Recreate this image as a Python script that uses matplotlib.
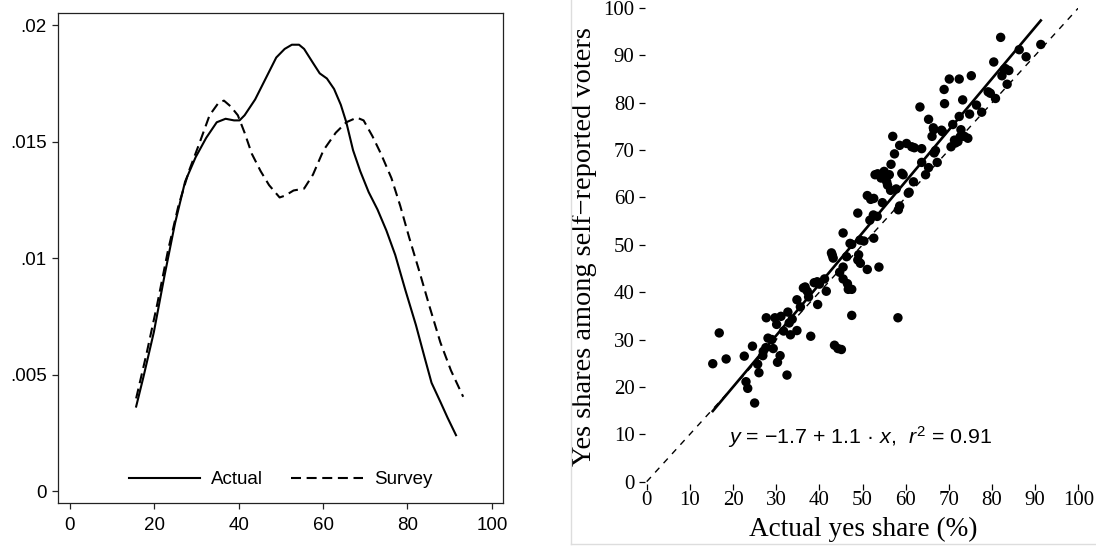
import numpy as np
import matplotlib

matplotlib.use("Agg")
from matplotlib import pyplot as plt
from matplotlib.lines import Line2D

## left panel: density of yes shares (actual vs survey)
actual_x = [15.7, 17.4, 19.9, 22.4, 24.9, 27.3, 29.8, 32.3, 34.8, 36.9, 38.9, 40.2, 41.4, 43.9,
            46.4, 48.9, 50.9, 52.6, 54.3, 55.5, 57.6, 59.2, 60.9, 62.6, 64.2, 65.5, 67.1, 68.8,
            70.8, 72.9, 75.0, 77.1, 79.5, 82.0, 84.1, 85.7, 87.8, 89.5, 91.5]
actual_y = [0.00363, 0.00488, 0.00683, 0.00923, 0.01149, 0.01329, 0.01434, 0.01517, 0.01584,
            0.01599, 0.01592, 0.01592, 0.01614, 0.01682, 0.01772, 0.01862, 0.01899, 0.01917,
            0.01917, 0.01899, 0.01839, 0.01794, 0.01772, 0.01727, 0.01659, 0.01584, 0.01464,
            0.01374, 0.01284, 0.01209, 0.01119, 0.01014, 0.00863, 0.00713, 0.00571, 0.00465,
            0.00383, 0.00315, 0.00240]
survey_x = [15.7, 18.2, 20.7, 23.2, 25.7, 28.2, 30.7, 33.1, 35.2, 36.5, 38.1, 39.8, 41.4, 43.1,
            45.2, 47.2, 49.7, 51.0, 53.0, 55.5, 57.6, 60.1, 63.0, 65.5, 68.0, 69.6, 71.7, 73.7,
            76.2, 78.3, 80.4, 82.9, 85.3, 87.8, 90.3, 93.2]
survey_y = [0.00398, 0.00593, 0.00803, 0.01029, 0.01224, 0.01374, 0.01494, 0.01614, 0.01667,
            0.01677, 0.01652, 0.01614, 0.01539, 0.01449, 0.01374, 0.01314, 0.01261, 0.01269,
            0.01291, 0.01299, 0.01359, 0.01464, 0.01539, 0.01584, 0.01604, 0.01592, 0.01524,
            0.01449, 0.01344, 0.01224, 0.01089, 0.00938, 0.00788, 0.00638, 0.00518, 0.00405]
density_xticks = [0, 20, 40, 60, 80, 100]
density_yticks = [0, 0.005, 0.01, 0.015, 0.02]
density_yticklabels = ["0", ".005", ".01", ".015", ".02"]

## right panel: survey yes share vs actual yes share, one point per vote
actual_share = [15.3, 16.8, 18.4, 22.6, 23.0, 23.4, 24.5, 25.0, 25.7, 26.0, 26.9, 27.6, 27.7, 28.1,
                29.3, 29.7, 30.1, 30.3, 30.9, 31.1, 31.7, 32.5, 32.7, 33.3, 33.7, 34.8, 34.8, 35.6,
                36.3, 37.2, 38.0, 38.8, 39.6, 40.0, 41.6, 41.2, 42.8, 43.2, 43.5, 44.3, 44.7, 45.1,
                45.5, 45.5, 45.5, 46.3, 46.7, 47.5, 47.5, 47.5, 48.9, 49.1, 49.5, 50.3, 51.1, 51.1,
                51.9, 52.6, 52.6, 52.9, 53.4, 53.8, 54.3, 54.6, 55.0, 55.8, 56.2, 56.6, 57.0, 57.4,
                57.8, 58.2, 58.6, 58.6, 59.4, 60.2, 60.8, 61.4, 61.8, 63.3, 63.7, 63.7, 64.6, 65.3,
                65.3, 66.1, 66.5, 66.9, 67.3, 68.5, 68.9, 69.0, 70.1, 70.5, 70.9, 71.3, 72.1, 72.4,
                72.4, 72.8, 73.2, 73.6, 74.4, 75.2, 74.8, 76.4, 77.6, 79.6, 80.4, 80.8, 82.0, 82.3,
                83.1, 83.5, 83.9, 86.3, 87.9, 91.3,
                53.5, 54.8, 59.1, 55.6, 56.5, 60.6, 58.3, 52.5, 51.7, 47.1, 49.4, 43.0, 48.9, 36.7,
                39.5, 46.5, 66.4, 68.3, 71.5, 72.6, 62.0, 66.6, 82.8, 79.1, 29.0, 27.0, 33.0, 37.5]
survey_share = [24.9, 31.4, 25.9, 26.5, 21.1, 19.7, 28.6, 16.6, 24.8, 23.0, 26.6, 28.3, 34.6, 30.3,
                28.1, 34.6, 33.2, 25.2, 26.6, 34.9, 31.8, 22.5, 35.8, 31.0, 34.3, 31.9, 38.4, 36.9,
                40.9, 40.2, 30.7, 42.0, 37.4, 41.7, 40.2, 42.8, 48.3, 47.2, 28.8, 28.1, 44.2, 27.9,
                52.5, 45.3, 42.8, 47.5, 40.6, 40.6, 35.1, 50.1, 56.7, 47.9, 46.1, 50.8, 44.8, 60.4,
                59.6, 51.4, 59.8, 64.8, 56.0, 45.3, 64.1, 58.9, 65.5, 62.6, 64.8, 67.0, 72.9, 69.2,
                61.8, 34.6, 58.2, 71.0, 64.8, 71.4, 61.1, 70.7, 63.3, 79.1, 70.3, 67.4, 64.8, 76.5,
                66.3, 72.9, 74.3, 69.9, 67.4, 73.9, 82.8, 79.8, 85.0, 70.7, 75.4, 72.1, 71.8, 85.0,
                77.1, 74.3, 80.6, 72.9, 72.5, 85.7, 77.6, 79.5, 78.0, 82.0, 88.6, 80.9, 93.8, 85.7,
                87.2, 83.9, 86.8, 91.2, 89.7, 92.3,
                65.0, 64.9, 65.1, 63.3, 61.5, 60.9, 57.4, 56.3, 55.2, 50.3, 51.0, 47.8, 46.8, 41.1,
                42.2, 41.8, 74.7, 74.2, 71.5, 72.8, 70.5, 69.4, 87.0, 82.3, 30.0, 27.5, 33.5, 39.0]
fit_intercept = -1.7
fit_slope = 1.085  # printed rounded as 1.1
fit_r2 = 0.91
share_ticks = list(range(0, 101, 10))

plt.rcParams["mathtext.fontset"] = "custom"
plt.rcParams["mathtext.rm"] = "Liberation Sans"
plt.rcParams["mathtext.it"] = "Liberation Sans:italic"

sans = "Liberation Sans"
serif = "Liberation Serif"
frame_color = "#222222"

fig = plt.figure(figsize=(10.96, 5.48), dpi=100)

# %% left panel
ax1 = fig.add_axes([0.0526, 0.0816, 0.4066, 0.895])
ax1.plot(actual_x, actual_y, color="black", lw=1.5, label="Actual")
ax1.plot(survey_x, survey_y, color="black", lw=1.5, ls=(0, (4.8, 2.7)), label="Survey")
ax1.set_xlim(-2.9, 102.7)
ax1.set_ylim(-0.000524, 0.02054)
ax1.set_xticks(density_xticks)
ax1.set_xticklabels([str(t) for t in density_xticks], family=sans, fontsize=13.5)
ax1.set_yticks(density_yticks)
ax1.set_yticklabels(density_yticklabels, family=sans, fontsize=13.5)
ax1.tick_params(axis="both", direction="out", length=4.3, width=0.9, color=frame_color, pad=3.5)
ax1.tick_params(axis="x", pad=5.5)
for spine in ax1.spines.values():
    spine.set_color(frame_color)
    spine.set_linewidth(0.9)

ax1.legend(
    loc="center",
    bbox_to_anchor=(0.5, 0.048),
    ncol=2,
    frameon=False,
    handlelength=3.8,
    handletextpad=0.6,
    columnspacing=1.5,
    prop={"family": sans, "size": 13.5},
)

# %% right panel
ax2 = fig.add_axes([0.5885, 0.1159, 0.3954, 0.8695])
ax2.set_xlim(-0.4, 100)
ax2.set_ylim(-0.6, 100)

ax2.plot(
    [share_ticks[0], share_ticks[-1]],
    [share_ticks[0], share_ticks[-1]],
    color="black",
    lw=1.0,
    ls=(0, (4.5, 4.5)),
    zorder=1,
)
fit_x = np.array([min(actual_share), max(actual_share)])
ax2.plot(fit_x, fit_intercept + fit_slope * fit_x, color="black", lw=1.9, zorder=2)
ax2.scatter(actual_share, survey_share, s=46, color="black", edgecolor="none", zorder=3)

ax2.text(
    49.4,
    9.4,
    "$y$ = \u2212%.1f + %.1f \u00b7 $x$,  $r^2$ = %.2f" % (abs(fit_intercept), fit_slope, fit_r2),
    ha="center",
    va="center",
    family=sans,
    fontsize=15.4,
)

for spine in ax2.spines.values():
    spine.set_visible(False)
ax2.set_xticks(share_ticks)
ax2.set_xticklabels([str(t) for t in share_ticks], family=serif, fontsize=15)
ax2.set_yticks(share_ticks)
ax2.set_yticklabels([str(t) for t in share_ticks], family=serif, fontsize=15)
ax2.tick_params(axis="y", direction="out", length=4.3, width=0.9, pad=3.2)
ax2.tick_params(axis="x", direction="out", length=4, width=0.9, pad=1)

ax2.set_xlabel("Actual yes share (%)", family=serif, fontsize=19.6)
ax2.xaxis.set_label_coords(0.503, -0.068)
ax2.set_ylabel("Yes shares among self\u2212reported voters", family=serif, fontsize=20.4)
ax2.yaxis.set_label_coords(-0.11, 0.5)

# faint border around the right panel
fig.add_artist(Line2D([571 / 1096, 571 / 1096], [1, 1 - 544 / 548], color="#dddddd", lw=1))
fig.add_artist(Line2D([571 / 1096, 1], [1 - 544 / 548, 1 - 544 / 548], color="#dddddd", lw=1))

fig.savefig("out.png", dpi=100, facecolor="white")
